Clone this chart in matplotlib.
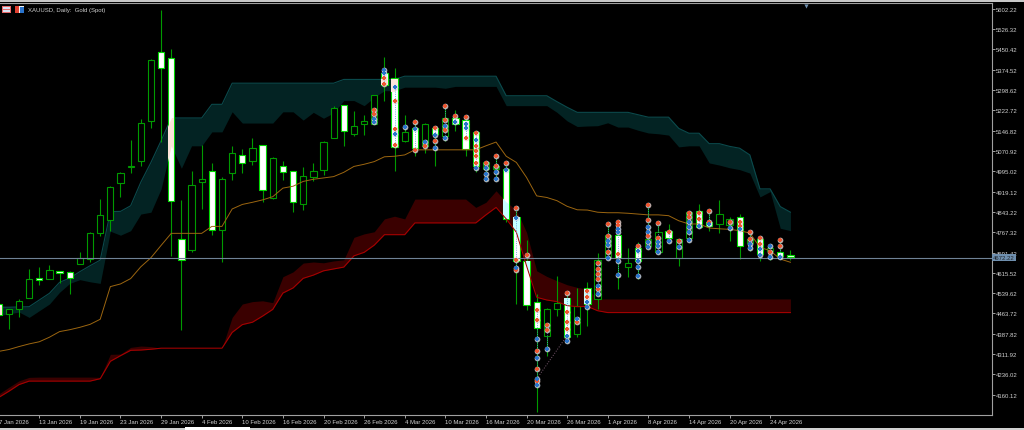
import matplotlib
matplotlib.use("Agg")
import numpy as np
import matplotlib.pyplot as plt
from matplotlib.patches import Rectangle
from matplotlib.path import Path

# Daily candles, one entry per trading day from 7 Jan 2026
opens = [4499, 4462, 4479, 4520, 4596, 4591, 4622, 4617, 4647, 4667, 4763, 4814, 4952, 5011, 5034, 5182, 5440, 5419, 4741, 4701,
         4956, 4995, 4777, 4987, 5057, 5032, 5094, 4894, 5015, 4997, 4871, 4972, 5001, 5118, 5244, 5134, 5173, 5171, 5361, 5343,
         5109, 5155, 5090, 5158, 5128, 5193, 5186, 5140, 5003, 5003, 5003, 4824, 4658, 4505, 4381, 4479, 4520, 4387, 4560, 4518,
         4670, 4758, 4636, 4707, 4717, 4692, 4773, 4670, 4745, 4846, 4804, 4797, 4794, 4823, 4726, 4742, 4698, 4694, 4681]
closes = [4458, 4479, 4509, 4592, 4588, 4627, 4616, 4597, 4670, 4763, 4830, 4935, 4987, 5016, 5176, 5409, 5380, 4884, 4664, 4942,
          4965, 4777, 4965, 5064, 5026, 5083, 4926, 5043, 4993, 4879, 4976, 4995, 5104, 5230, 5144, 5163, 5183, 5280, 5317, 5087,
          5143, 5083, 5170, 5134, 5194, 5171, 5078, 5016, 5028, 5013, 4817, 4658, 4496, 4408, 4480, 4504, 4377, 4493, 4499, 4664,
          4758, 4671, 4651, 4661, 4742, 4767, 4747, 4742, 4842, 4786, 4789, 4834, 4817, 4717, 4742, 4686, 4707, 4680, 4673]
highs = [4499, 4479, 4518, 4630, 4636, 4645, 4622, 4621, 4694, 4769, 4891, 4941, 4992, 5112, 5190, 5413, 5597, 5451, 4888, 4995,
         5093, 5025, 4972, 5089, 5078, 5118, 5094, 5047, 5032, 4997, 5012, 5025, 5107, 5238, 5244, 5219, 5206, 5280, 5421, 5381,
         5206, 5190, 5175, 5163, 5240, 5224, 5202, 5140, 5034, 5059, 5034, 4866, 4738, 4535, 4485, 4602, 4549, 4558, 4580, 4688,
         4804, 4810, 4707, 4730, 4873, 4808, 4798, 4742, 4848, 4873, 4851, 4889, 4825, 4835, 4771, 4750, 4723, 4742, 4701]
lows = [4450, 4406, 4452, 4520, 4570, 4591, 4576, 4536, 4647, 4657, 4754, 4773, 4898, 4990, 5013, 5155, 5105, 4679, 4402, 4694,
        4854, 4757, 4655, 4962, 4987, 5018, 4879, 4891, 4962, 4842, 4851, 4960, 4981, 5118, 5090, 5128, 5130, 5171, 5259, 4997,
        5103, 5051, 5063, 5013, 5109, 5146, 5053, 4993, 4960, 4960, 4806, 4499, 4477, 4097, 4304, 4455, 4353, 4375, 4418, 4480,
        4670, 4555, 4599, 4592, 4705, 4686, 4730, 4642, 4730, 4786, 4773, 4764, 4736, 4667, 4698, 4661, 4664, 4667, 4664]

# Orange baseline
base_line = [4322, 4329, 4340, 4350, 4358, 4375, 4396, 4403, 4412, 4423, 4442, 4564, 4574, 4594, 4638, 4672, 4718, 4763, 4763, 4763,
             4763, 4789, 4789, 4854, 4871, 4879, 4888, 4900, 4932, 4939, 4957, 4965, 4970, 4975, 4991, 5013, 5021, 5031, 5049, 5051,
             5056, 5075, 5075, 5075, 5075, 5075, 5075, 5075, 5090, 5104, 5051, 5028, 4972, 4903, 4897, 4885, 4864, 4851, 4850, 4842,
             4840, 4840, 4838, 4835, 4832, 4832, 4829, 4810, 4798, 4798, 4783, 4780, 4778, 4773, 4764, 4711, 4698, 4667, 4655]

# Teal cloud
teal_top = [4487, 4487, 4488, 4489, 4514, 4539, 4580, 4596, 4620, 4642, 4663, 4844, 4845, 4866, 4954, 5028, 5109, 5194, 5194, 5194,
            5194, 5245, 5245, 5324, 5324, 5324, 5324, 5324, 5324, 5324, 5324, 5324, 5324, 5324, 5338, 5338, 5338, 5338, 5338, 5338,
            5350, 5350, 5350, 5350, 5350, 5350, 5350, 5350, 5350, 5350, 5277, 5277, 5277, 5277, 5277, 5255, 5234, 5215, 5215, 5215,
            5215, 5215, 5215, 5206, 5197, 5197, 5197, 5155, 5137, 5137, 5098, 5098, 5088, 5081, 5056, 4929, 4929, 4863, 4842]
teal_bottom = [4456, 4462, 4469, 4449, 4474, 4499, 4543, 4576, 4590, 4582, 4576, 4771, 4756, 4773, 4835, 4842, 4929, 5090, 5006, 5090,
               5090, 5142, 5142, 5217, 5175, 5175, 5175, 5175, 5217, 5217, 5186, 5215, 5193, 5213, 5259, 5259, 5240, 5271, 5296, 5296,
               5309, 5309, 5309, 5309, 5305, 5312, 5312, 5312, 5312, 5312, 5240, 5240, 5240, 5240, 5240, 5215, 5183, 5162, 5164, 5165,
               5176, 5160, 5160, 5148, 5138, 5135, 5130, 5086, 5090, 5090, 5026, 5018, 5008, 5001, 4988, 4899, 4919, 4782, 4773]

# Red cloud
red_top = [4163, 4188, 4212, 4225, 4226, 4226, 4226, 4226, 4226, 4226, 4225, 4311, 4312, 4337, 4342, 4340, 4334, 4334, 4334, 4334,
           4334, 4334, 4334, 4449, 4499, 4508, 4511, 4504, 4601, 4619, 4652, 4656, 4653, 4660, 4664, 4748, 4761, 4769, 4817, 4827,
           4817, 4891, 4891, 4891, 4891, 4891, 4891, 4860, 4879, 4922, 4880, 4850, 4767, 4623, 4602, 4586, 4571, 4561, 4555, 4518,
           4518, 4518, 4518, 4518, 4518, 4518, 4518, 4518, 4518, 4518, 4518, 4518, 4518, 4518, 4518, 4518, 4518, 4518, 4518]
red_bottom = [4150, 4173, 4198, 4211, 4211, 4211, 4211, 4211, 4211, 4211, 4220, 4285, 4306, 4326, 4327, 4330, 4334, 4334, 4334, 4334,
              4334, 4334, 4334, 4393, 4422, 4431, 4454, 4479, 4540, 4559, 4595, 4607, 4623, 4630, 4637, 4679, 4692, 4719, 4758, 4758,
              4758, 4802, 4802, 4802, 4802, 4802, 4802, 4802, 4832, 4860, 4817, 4767, 4642, 4524, 4514, 4508, 4493, 4489, 4490, 4474,
              4467, 4467, 4467, 4467, 4467, 4467, 4467, 4467, 4467, 4467, 4467, 4467, 4467, 4467, 4467, 4467, 4467, 4467, 4467]

# Signal dots, bar number -> prices
red_marks = {37: [5224, 5209], 38: [5342, 5321], 39: [5259, 5153, 5093], 41: [5180, 5074], 42: [5090],
             43: [5155, 5107], 44: [5240, 5185, 5149], 45: [5202], 46: [5196, 5118],
             47: [5138, 5090, 5072, 5051, 5026], 48: [5026], 49: [5053, 5013], 50: [5026],
             51: [4857, 4665, 4626], 52: [4683], 53: [4478, 4440, 4322, 4256, 4211], 54: [4421, 4403],
             56: [4541, 4470, 4431, 4406], 57: [4433], 58: [4549, 4524], 59: [4652, 4630, 4611, 4592, 4555],
             60: [4798, 4752, 4692], 61: [4806, 4794, 4686], 63: [4717], 64: [4869, 4814, 4754],
             65: [4803, 4744], 66: [4767], 67: [4735], 68: [4839, 4823], 69: [4839, 4817], 70: [4845, 4804],
             72: [4806], 73: [4804, 4792], 74: [4767, 4742], 75: [4746, 4723], 76: [4694], 77: [4739, 4717]}
blue_marks = {37: [5192, 5179], 38: [5374, 5362], 39: [5309, 5133], 40: [5161], 41: [5153], 42: [5103],
              43: [5130, 5081], 44: [5165, 5118], 45: [5178], 46: [5171, 5155], 47: [5113, 5006],
              48: [5006, 4985, 4966], 49: [4991, 4966], 50: [5000], 51: [4819, 4632],
              53: [4368, 4297, 4219, 4196], 54: [4331], 56: [4381, 4361], 57: [4443], 58: [4505, 4487],
              59: [4567, 4536], 60: [4735, 4719, 4670], 61: [4779, 4767, 4661, 4608],
              63: [4698, 4661, 4636, 4602], 64: [4786, 4767, 4732, 4711], 65: [4730, 4715, 4694],
              66: [4735], 67: [4711], 68: [4804, 4786, 4767, 4738], 69: [4792], 70: [4798], 72: [4782],
              73: [4779], 74: [4723, 4708], 75: [4705, 4683], 76: [4717, 4673], 77: [4673]}

# Dotted link between signals
link_bars = [53, 56]
link_prices = [4219, 4381]

date_ticks = [0, 4, 8, 12, 16, 20, 24, 28, 32, 36, 40, 44, 48, 52, 56, 60, 64, 68, 72, 76]
date_labels = ["7 Jan 2026", "13 Jan 2026", "19 Jan 2026", "23 Jan 2026", "29 Jan 2026", "4 Feb 2026", "10 Feb 2026",
               "16 Feb 2026", "20 Feb 2026", "26 Feb 2026", "4 Mar 2026", "10 Mar 2026", "16 Mar 2026", "20 Mar 2026",
               "26 Mar 2026", "1 Apr 2026", "8 Apr 2026", "14 Apr 2026", "20 Apr 2026", "24 Apr 2026"]
price_ticks = [5602.22, 5526.32, 5450.42, 5374.52, 5298.62, 5222.72, 5146.82, 5070.92, 4995.02, 4919.12,
               4843.22, 4767.32, 4691.42, 4615.52, 4539.62, 4463.72, 4387.82, 4311.92, 4236.02, 4160.12]
last_price = 4672.22

plt.rcParams['font.family'] = ['Liberation Sans', 'DejaVu Sans']

W, H = 1024, 431
fig = plt.figure(figsize=(W / 100, H / 100), dpi=100, facecolor='black')
ax = fig.add_axes([-5 / W, (H - 415.7) / H, 996.5 / W, 412.2 / H], facecolor='black')

bars = np.arange(len(opens))
opens = np.array(opens)
closes = np.array(closes)
highs = np.array(highs)
lows = np.array(lows)
white = closes < opens
body_w = 0.62

# Clouds
ax.fill_between(bars, teal_bottom, teal_top, color='#032323', lw=0, zorder=1)
ax.plot(bars, teal_top, color='#0b4a4c', lw=0.8, zorder=1.2)
ax.fill_between(bars, red_bottom, red_top, color='#3a0000', lw=0, zorder=1)

# Candles
ax.vlines(bars, lows, highs, color='#009a00', lw=0.8, zorder=2)
ax.bar(bars[~white], (closes - opens)[~white], bottom=opens[~white], width=body_w,
       facecolor='black', edgecolor='#009a00', lw=0.8, zorder=3)
ax.bar(bars[white], (opens - closes)[white], bottom=closes[white], width=body_w,
       facecolor='white', edgecolor='#00d800', lw=0.8, zorder=3)

# The cloud shows through the white bodies in an inverted colour
body_paths = [Path([(b - body_w / 2, closes[b]), (b + body_w / 2, closes[b]), (b + body_w / 2, opens[b]),
                    (b - body_w / 2, opens[b]), (b - body_w / 2, closes[b])]) for b in bars[white]]
white_clip = Path.make_compound_path(*body_paths)
tint = ax.fill_between(bars, teal_bottom, teal_top, color='#ffe4da', lw=0, zorder=3.2)
tint.set_clip_path(white_clip, ax.transData)
tint = ax.fill_between(bars, red_bottom, red_top, color='#c6ffff', lw=0, zorder=3.2)
tint.set_clip_path(white_clip, ax.transData)

# Lines
ax.plot(bars, base_line, color='#9c6610', lw=0.7, zorder=3.5)
ax.plot(bars, red_bottom, color='#a80000', lw=0.75, zorder=3.5)
ax.axhline(last_price, color='#6f8296', lw=0.8, zorder=3.6)

# Signals
for marks, halo in [(red_marks, '#e8d0cc'), (blue_marks, '#ccd8e8')]:
    xs = [b for b in marks for p in marks[b]]
    ys = [p for b in marks for p in marks[b]]
    ax.scatter(xs, ys, s=17, color=halo, alpha=0.8, linewidths=0, zorder=4)
for b in sorted(set(red_marks) | set(blue_marks)):
    prices = red_marks.get(b, []) + blue_marks.get(b, [])
    ax.vlines(b, min(prices), max(prices), color='#5a94dc', lw=0.6, linestyles=':', zorder=4.1)
ax.plot(link_bars, link_prices, color='#7a5a70', lw=0.7, ls=':', zorder=4.1)
for marks, core in [(red_marks, '#ee5530'), (blue_marks, '#2a74cc')]:
    xs = [b for b in marks for p in marks[b]]
    ys = [p for b in marks for p in marks[b]]
    ax.scatter(xs, ys, s=7, marker='P', color=core, linewidths=0, zorder=4.2)

# Axes
ax.set_xlim(-0.364, 97.81)
ax.set_ylim(4085.5, 5625.4)
ax.spines['left'].set_visible(False)
for name in ['right', 'top', 'bottom']:
    ax.spines[name].set_color('#a0a0a0')
    ax.spines[name].set_linewidth(0.8)
ax.yaxis.tick_right()
ax.set_yticks(price_ticks)
ax.set_yticklabels(["%.2f" % p for p in price_ticks])
ax.set_xticks(date_ticks)
ax.set_xticklabels(date_labels, ha='left')
ax.tick_params(axis='y', labelcolor='#d0d0d0', labelsize=4.3, length=2.2, width=0.7, pad=0.6, color='#a0a0a0')
ax.tick_params(axis='x', labelcolor='#d0d0d0', labelsize=4.3, length=2.2, width=0.7, pad=1.2, color='#a0a0a0')

# Price tag, chart title, and the small shift marker on top
ax.text(1.0016, last_price, "%.2f" % last_price, transform=ax.get_yaxis_transform(), fontsize=4.3, color='#20262c',
        va='center', ha='left', zorder=6, clip_on=False,
        bbox=dict(facecolor='#6f8fae', edgecolor='none', pad=0.9))
fig.text(28 / W, 1 - 10.5 / H, "XAUUSD, Daily:  Gold (Spot)", color='#d0d0d0', fontsize=4.3, va='center', ha='left')
ax.plot([79.5], [5612], marker='v', ms=3, color='#6f8fae', mew=0, clip_on=False, zorder=6)


def box(x, y, w, h, color):
    fig.add_artist(Rectangle((x / W, 1 - (y + h) / H), w / W, h / H, transform=fig.transFigure, facecolor=color, edgecolor='none'))


# Window edges
box(0, 0, W, 1, '#f4f4f4')
box(0, 1, W, 2, '#c8c8c8')
box(0, 429, W, 2, '#d0d0d0')
box(185, 428, 65, 3, '#ffffff')

# Two toolbar icons
box(2, 7, 9, 7, '#e86a6a')
box(3, 8, 7, 2, '#d8e4f4')
box(3, 11, 7, 2, '#d8e4f4')
box(15, 7, 9, 7, '#f2f2f2')
box(15, 7, 4, 7, '#e04030')
box(20, 8, 4, 6, '#2a74cc')

fig.savefig("out.png", dpi=100, facecolor='black')
